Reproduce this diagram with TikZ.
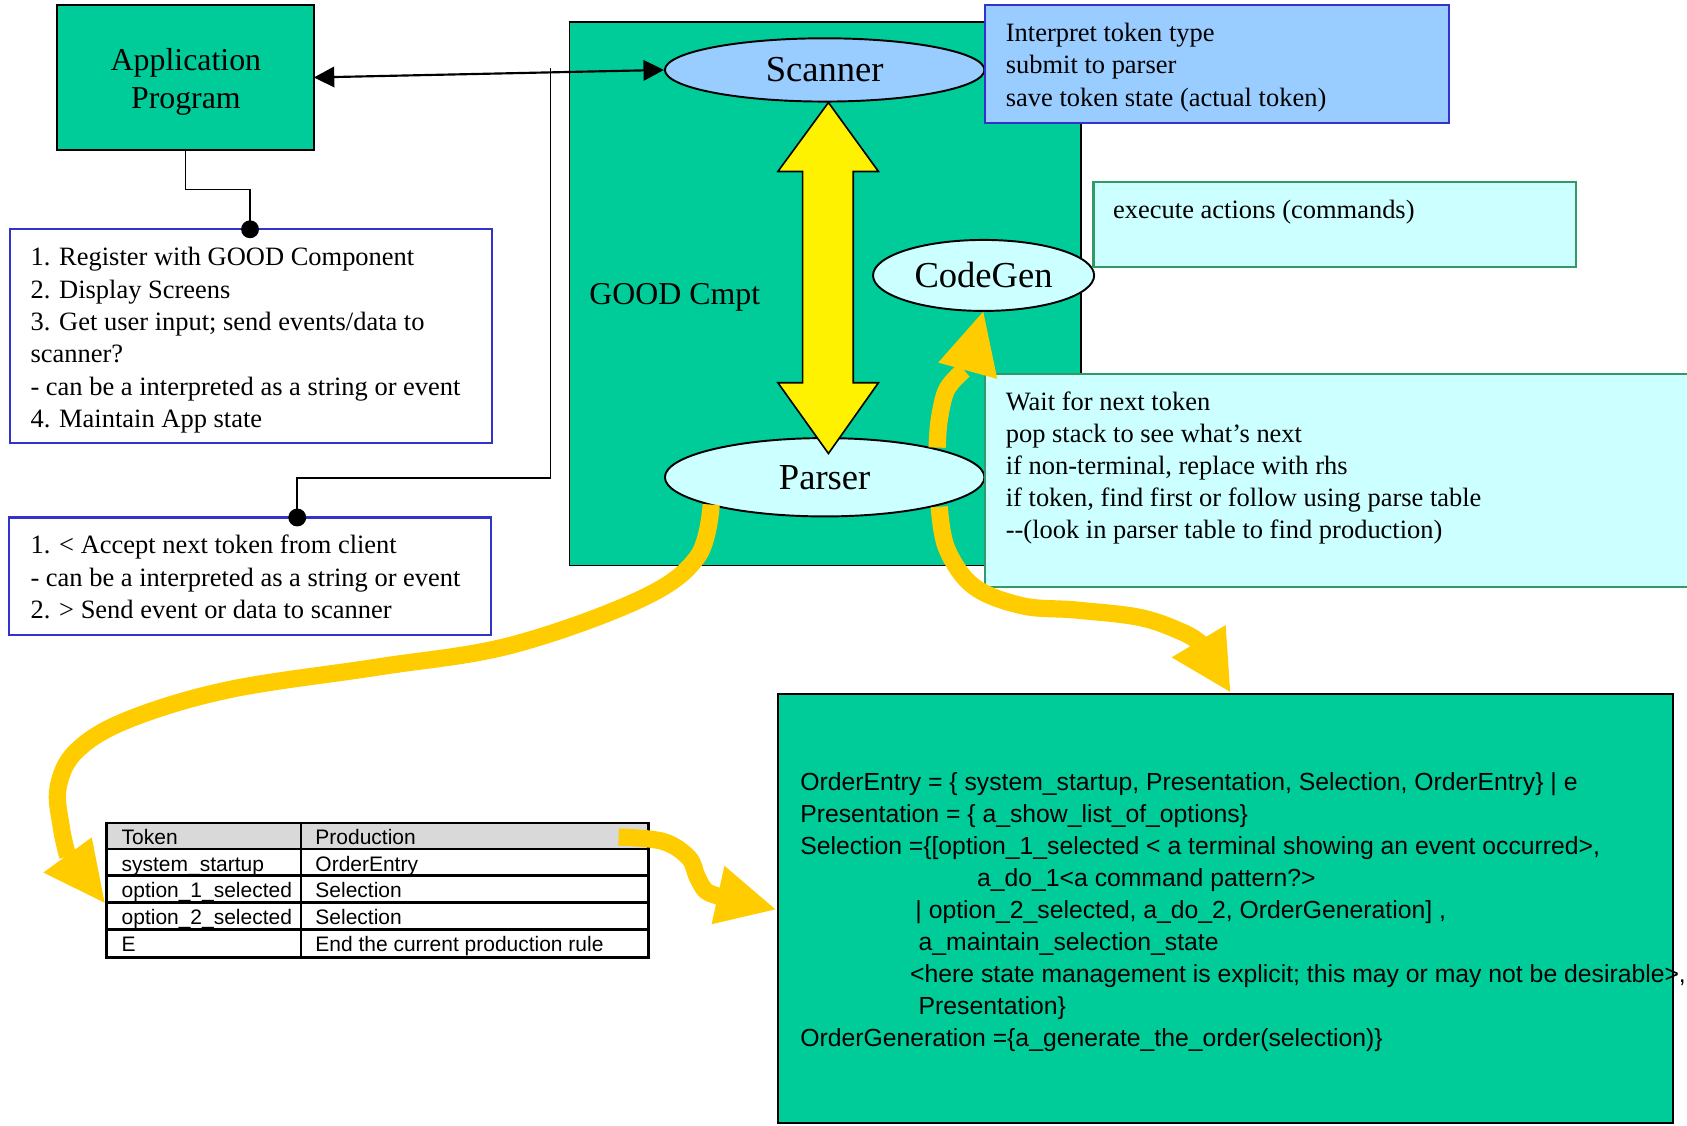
\documentclass[tikz,border=0pt]{standalone}
\usepackage{fontspec}
\setmainfont{Liberation Serif}
\newfontfamily\sansf{Liberation Sans}
\usetikzlibrary{arrows.meta,shapes.geometric}
\definecolor{goodgreen}{HTML}{00CC99}
\definecolor{lblue}{HTML}{99CCFF}
\definecolor{lcyan}{HTML}{CCFFFF}
\definecolor{bborder}{HTML}{3333CC}
\definecolor{gborder}{HTML}{339966}
\definecolor{dyellow}{HTML}{FFCC00}
\definecolor{hdrgrey}{HTML}{D9D9D9}
\newcommand\bodyf{\fontsize{24.6}{30}\selectfont}
\newcommand\bigf{\fontsize{29.6}{35}\selectfont}
\newcommand\ellf{\fontsize{34}{40}\selectfont}
\newcommand\grf{\sansf\fontsize{23}{29.75}\selectfont}
\newcommand\tabf{\sansf\fontsize{19.5}{24}\selectfont}
\begin{document}
\begin{tikzpicture}[x=1pt,y=-1pt,
  rbox/.style={draw, anchor=north west, inner sep=0pt, outer sep=0pt},
  greenbox/.style={rbox, fill=goodgreen, line width=1.5pt},
  bluebox/.style={rbox, fill=lblue, draw=bborder, line width=2pt},
  cyanbox/.style={rbox, fill=lcyan, draw=gborder, line width=2pt},
  whitebox/.style={rbox, fill=white, draw=bborder, line width=2pt},
  ell/.style={ellipse, draw, line width=1.8pt, inner sep=0pt, font=\ellf},
  txt/.style={anchor=north west, inner sep=0pt, align=left, font=\bodyf},
  celltxt/.style={anchor=base west, inner sep=0pt, font=\tabf},
  conn/.style={draw, line width=1.5pt},
  dotnode/.style={circle, fill=black, inner sep=0pt, minimum size=16.6pt},
  fat/.style={draw=dyellow, line width=16pt},
  fathead/.style={fill=dyellow}
]
\useasboundingbox (0,0) rectangle (1568,1046);
\fill[white] (0,0) rectangle (1568,1046);

% Application program
\node[greenbox, minimum width=238.6pt, minimum height=134.8pt] (app) at (53.1,4.6) {};
\node[align=center, font=\bigf, inner sep=0pt] (apptxt) at (172.8,76) {Application\\Program};

% GOOD component box
\node[greenbox, minimum width=475.6pt, minimum height=505.4pt] (good) at (529.4,20.3) {};
\node[anchor=base west, inner sep=0pt, font=\bigf] (goodtxt) at (547.7,282.7) {GOOD Cmpt};

% ellipses
\node[ell, fill=lblue, minimum width=297pt, minimum height=58.8pt] (scanner) at (766.5,65) {Scanner};
\node[ell, fill=lcyan, minimum width=297pt, minimum height=72.8pt] (parser) at (766.5,443.6) {Parser};
\node[ell, fill=lcyan, minimum width=205.5pt, minimum height=66pt] (codegen) at (914.2,256) {CodeGen};

% yellow double arrow between scanner and parser
\draw[fill=yellow, line width=1.5pt, line join=miter]
  (770,95.3) -- (816.5,159.4) -- (793,159.4) -- (793,355.7) -- (816.5,355.7)
  -- (770,421.5) -- (723,355.7) -- (746,355.7) -- (746,159.4) -- (723,159.4) -- cycle;

% blue note
\node[bluebox, minimum width=431.4pt, minimum height=109.5pt] (scannote) at (915.6,5) {};
\node[txt] (scannotetxt) at (934.7,17.5) {\strut Interpret token type\\submit to parser\\save token state (actual token)};

% execute actions
\node[cyanbox, minimum width=448.7pt, minimum height=78.9pt] (execnote) at (1016.3,169) {};
\node[txt] (exectxt) at (1034.5,181.8) {\strut execute actions (commands)};

% wait note
\node[cyanbox, minimum width=700pt, minimum height=197.7pt] (waitnote) at (915.6,347.5) {};
\node[txt, font=\fontsize{24.6}{29.7}\selectfont] (waittxt) at (934.7,360.5) {\strut Wait for next token\\pop stack to see what’s next\\if non-terminal, replace with rhs\\if token, find first or follow using parse table\\-{}-(look in parser table to find production)};

% left boxes
\node[whitebox, minimum width=448.1pt, minimum height=198.9pt] (steps) at (9.1,213.1) {};
\node[txt] (stepstxt) at (28.2,226) {\strut 1. Register with GOOD Component\\2. Display Screens\\3. Get user input; send events/data to\\scanner?\\- can be a interpreted as a string or event\\4. Maintain App state};

\node[whitebox, minimum width=448.1pt, minimum height=109.3pt] (tokbox) at (8.5,481) {};
\node[txt] (tokboxtxt) at (28.2,493.5) {\strut 1. < Accept next token from client\\- can be a interpreted as a string or event\\2. > Send event or data to scanner};

% connectors
\node[dotnode] (dot1) at (232.4,213.1) {};
\node[dotnode] (dot2) at (276.3,481) {};
\coordinate (vtop) at (511.6,63.5);
\draw[conn] (app.south) -- ++(0,36.6) -| (dot1.center);
\draw[conn] (dot2.center) -- ++(0,-37) -| (vtop);
\draw[line width=2pt, {Triangle[length=19pt,width=19pt]}-{Triangle[length=19pt,width=19pt]}] (app.east) -- (scanner.west);

% table
\fill[hdrgrey] (99,765) rectangle (603,789);
\node[rbox, line width=2.5pt, minimum width=504pt, minimum height=125pt] (table) at (99,765) {};
\draw[line width=2.5pt] (99,789) -- (603,789) (99,814) -- (603,814) (99,839) -- (603,839) (99,864) -- (603,864) (279.8,765) -- (279.8,890);
\node[celltxt] (c11) at (112.9,784.6) {Token};
\node[celltxt] (c12) at (293,784.6) {Production};
\node[celltxt] (c21) at (112.9,809.6) {system\_startup};
\node[celltxt] (c22) at (293,809.6) {OrderEntry};
\node[celltxt] (c31) at (112.9,834.6) {option\_1\_selected};
\node[celltxt] (c32) at (293,834.6) {Selection};
\node[celltxt] (c41) at (112.9,859.6) {option\_2\_selected};
\node[celltxt] (c42) at (293,859.6) {Selection};
\node[celltxt] (c51) at (112.9,884.6) {E};
\node[celltxt] (c52) at (293,884.6) {End the current production rule};

% grammar box
\node[greenbox, minimum width=832pt, minimum height=399pt] (grammar) at (723,645) {};
\node[txt, font=\grf] (grammartxt) at (743.6,713.5) {\strut OrderEntry = \{ system\_startup, Presentation, Selection, OrderEntry\} | e\\
Presentation = \{ a\_show\_list\_of\_options\}\\
Selection =\{[option\_1\_selected < a terminal showing an event occurred>,\\
\hspace*{164.4pt}a\_do\_1<a command pattern?>\\
\hspace*{107.1pt}| option\_2\_selected, a\_do\_2, OrderGeneration] ,\\
\hspace*{110.1pt}a\_maintain\_selection\_state\\
\hspace*{102.2pt}<here state management is explicit; this may or may not be desirable>,\\
\hspace*{110.1pt}Presentation\}\\
OrderGeneration =\{a\_generate\_the\_order(selection)\}};

% fat orange arrows
\draw[fat] plot[smooth, tension=0.6] coordinates {(871,416) (873,390) (880,362) (896,344)};
\fill[fathead] (872,337) -- (913.9,289.7) -- (926.9,352.2) -- cycle;

\draw[fat] plot[smooth, tension=0.6] coordinates {(661,469) (648,518) (595,557) (474,600) (351,620) (213,641) (119,669) (71,698) (54,732) (57,769) (63,796)};
\fill[fathead] (40.3,811) -- (85.3,778.3) -- (97.2,839) -- cycle;

\draw[fat] plot[smooth, tension=0.6] coordinates {(873,471) (880,510) (905,545) (950,563) (1000,567) (1060,574) (1100,588) (1116,598)};
\fill[fathead] (1089,611) -- (1139.2,581) -- (1143.4,643) -- cycle;

\draw[fat] plot[smooth, tension=0.6] coordinates {(575,778) (616,782) (640,797) (648,815) (656,828) (668,833)};
\fill[fathead] (673.3,804.7) -- (720.7,845.2) -- (661.4,859) -- cycle;
\end{tikzpicture}
\end{document}
